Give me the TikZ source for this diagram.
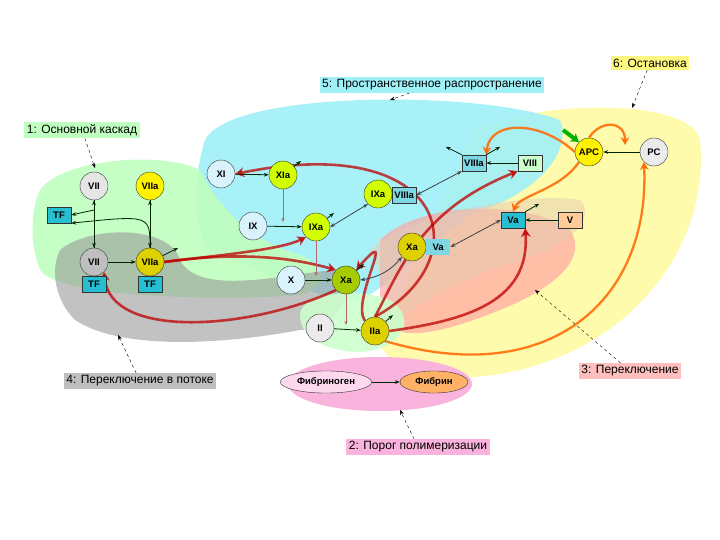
\documentclass[tikz,border=0pt]{standalone}
\usepackage{fontspec}
\setmainfont{Liberation Sans}
\usetikzlibrary{arrows.meta,shapes.geometric}
\definecolor{tfc}{RGB}{40,190,210}
\definecolor{cy}{RGB}{160,240,248}
\pgfdeclarelayer{bg}\pgfdeclarelayer{mid}
\pgfsetlayers{bg,mid,main}
\begin{document}
\begin{tikzpicture}[x=1pt,y=-1pt,font=\fontsize{9}{10}\selectfont,
 fac/.style={circle,draw=black!80,thin,minimum size=28pt,inner sep=0pt,font=\bfseries\fontsize{9.5}{10}\selectfont},
 bx/.style={draw=black!80,thin,minimum width=24pt,minimum height=16pt,inner sep=1.5pt,font=\bfseries\fontsize{9.5}{10}\selectfont},
 lab/.style={inner sep=2.5pt,font=\fontsize{12}{13}\selectfont},
 ar/.style={-{Stealth[length=5pt]},thick,black!75!green!60!black},
 dar/.style={{Stealth[length=5pt]}-{Stealth[length=5pt]},thick,black!70!cyan!60!black},
 red/.style={-{Stealth[length=9pt,width=10pt]},line width=2.6pt,red!75!black,opacity=0.75},
 ora/.style={-{Stealth[length=8pt,width=9pt]},line width=2.3pt,orange!80!red,opacity=0.85},
 pt/.style={dashed,-{Stealth[length=5pt]},thin}]
\useasboundingbox (0,0) rectangle (720,540);
\begin{pgfonlayer}{bg}
\fill[yellow!40,opacity=0.8] (470,135) .. controls (520,100) and (690,95) .. (700,140) .. controls (710,240) and (640,340) .. (520,370) .. controls (450,385) and (400,380) .. (380,345) -- cycle;
\fill[cy,opacity=0.9] (205,140) .. controls (230,90) and (480,90) .. (560,120) .. controls (575,160) and (520,200) .. (480,210) .. controls (440,230) and (400,280) .. (360,300) .. controls (320,300) and (280,280) .. (210,250) .. controls (190,230) and (195,170) .. (205,140) -- cycle;
\fill[green!25,opacity=0.9] (40,190) .. controls (60,160) and (160,150) .. (200,170) .. controls (220,210) and (250,240) .. (300,255) .. controls (320,260) and (330,290) .. (300,295) .. controls (240,300) and (60,300) .. (40,270) .. controls (30,245) and (30,210) .. (40,190) -- cycle;
\fill[black!40,opacity=0.6] (60,250) .. controls (90,225) and (170,225) .. (180,260) .. controls (200,300) and (300,270) .. (340,270) .. controls (360,300) and (330,330) .. (300,330) .. controls (220,345) and (120,350) .. (75,320) .. controls (55,300) and (50,270) .. (60,250) -- cycle;
\fill[red!35,opacity=0.7] (380,240) .. controls (420,200) and (530,200) .. (570,230) .. controls (590,260) and (550,290) .. (500,310) .. controls (450,330) and (400,345) .. (380,320) -- cycle;
\fill[brown!40,opacity=0.5] (370,250) .. controls (400,220) and (520,190) .. (580,200) .. controls (600,220) and (560,250) .. (520,260) .. controls (460,280) and (420,300) .. (400,320) -- cycle;
\fill[green!20,opacity=0.9] (300,315) .. controls (300,295) and (350,285) .. (390,300) .. controls (420,320) and (400,350) .. (360,352) .. controls (330,352) and (300,340) .. (300,315) -- cycle;
\fill[magenta!30] (380,384) ellipse (92 and 27);
\end{pgfonlayer}
% labels
\node[lab,fill=green!25] (L1) at (82,130) {1: Основной каскад};
\node[lab,fill=cy] (L5) at (432,85) {5: Пространственное распространение};
\node[lab,fill=yellow!50] (L6) at (650,63) {6: Остановка};
\node[lab,fill=black!25] (L4) at (140,381) {4: Переключение в потоке};
\node[lab,fill=red!25] (L3) at (630,371) {3: Переключение};
\node[lab,fill=magenta!30] (L2) at (418,447) {2: Порог полимеризации};
\coordinate (p1) at (95,168); \coordinate (p5) at (390,100); \coordinate (p6) at (632,108);
\coordinate (p4) at (118,335); \coordinate (p3) at (535,290); \coordinate (p2) at (400,410);
\draw[pt] (L1) -- (p1); \draw[pt] (L5) -- (p5); \draw[pt] (L6) -- (p6);
\draw[pt] (L4) -- (p4); \draw[pt] (L3) -- (p3); \draw[pt] (L2) -- (p2);
% nodes
\node[fac,fill=black!10] (VIIt) at (94,186) {VII};
\node[fac,fill=yellow] (VIIat) at (150,186) {VIIa};
\node[bx,fill=tfc] (TF) at (59,215) {TF};
\node[fac,fill=black!25] (VII) at (94,262) {VII};
\node[bx,fill=tfc] (TF1) at (94,284) {TF};
\node[fac,fill=yellow!70!olive] (VIIa) at (150,262) {VIIa};
\node[bx,fill=tfc] (TF2) at (150,284) {TF};
\node[fac,fill=cyan!15] (XI) at (221,174) {XI};
\node[fac,fill=lime!70!yellow] (XIa) at (283,175) {XIa};
\node[fac,fill=cyan!15] (IX) at (253,226) {IX};
\node[fac,fill=lime!70!yellow] (IXa) at (316,227) {IXa};
\node[fac,fill=cyan!15] (X) at (291,280) {X};
\node[fac,fill=lime!60!olive] (Xa) at (346,280) {Xa};
\node[fac,fill=black!8] (II) at (320,328) {II};
\node[fac,fill=yellow!70!olive] (IIa) at (375,331) {IIa};
\node[fac,fill=lime!70!yellow] (IXa2) at (378,194) {IXa};
\node[bx,fill=tfc!60,anchor=west] (VIIIa2) at (392,195) {VIIIa};
\node[bx,fill=tfc!60] (VIIIa) at (474,163) {VIIIa};
\node[bx,fill=green!20] (VIII) at (530,163) {VIII};
\node[fac,fill=yellow!70!olive] (Xa2) at (412,247) {Xa};
\node[bx,fill=tfc!60,draw=none,anchor=west] (Va2) at (426,247) {Va};
\node[bx,fill=tfc] (Va) at (513,220) {Va};
\node[bx,fill=orange!40] (V) at (570,220) {V};
\node[fac,fill=yellow] (APC) at (589,152) {APC};
\node[fac,fill=black!8] (PC) at (654,152) {PC};
\node[ellipse,draw=black!80,fill=magenta!15,font=\bfseries\fontsize{9.5}{10}\selectfont,minimum width=76pt,minimum height=22pt] (Fg) at (326,382) {Фибриноген};
\node[ellipse,draw=black!80,fill=orange!60,font=\bfseries\fontsize{9.5}{10}\selectfont,minimum width=68pt,minimum height=22pt] (Fb) at (434,382) {Фибрин};
% small arrows
\draw[ar] (VIIt) -- (VII); \draw[ar] (VII) -- (VIIt);
\draw[ar] (VIIat) -- (VIIa); \draw[ar] (VIIa) -- (VIIat);
\draw[ar] (94,210) -- (TF.east);
\draw[ar] (VIIa.north) ..controls (150,215) .. (TF.south east);
\draw[ar] (VII) -- (VIIa);
\draw[ar] (VIIa) -- ++(28,-14);
\draw[ar] (XI) -- (XIa); \draw[ar] (XIa) -- ++(18,-14);
\draw[ar] (IX) -- (IXa); \draw[ar] (IXa) -- ++(18,-14);
\draw[ar] (X) -- (Xa); \draw[ar] (Xa) -- ++(18,-16);
\draw[ar] (II) -- (IIa); \draw[ar] (IIa) -- ++(18,-16);
\draw[ar] (Fg) -- (Fb);
\draw[ar] (VIII) -- (VIIIa); \draw[ar] (V) -- (Va); \draw[ar] (PC) -- (APC);
\draw[ar] (VIIIa.north west) -- ++(-16,-8); \draw[ar] (VIIIa.north east) -- ++(14,-8);
\draw[ar] (Va.north east) -- ++(14,-8);
\draw[dar] (IXa.east) -- (IXa2.south west);
\draw[dar] (VIIIa2.east) -- (VIIIa.south west);
\draw[dar] (Xa.east) to[bend right=20] (Xa2.south west);
\draw[dar] (Va2.east) -- (Va.west);
\draw[thin,red!50!black!60,-{Stealth[length=4pt]}] (XIa) -- (283,222);
\draw[thin,red!50!black!60,-{Stealth[length=4pt]}] (IXa) -- (316,276);
\draw[thin,red!50!black!60,-{Stealth[length=4pt]}] (Xa) -- (346,325);
% big feedback arrows
\begin{pgfonlayer}{mid}
\draw[red] (VIIa.east) .. controls (220,255) and (280,250) .. (IXa.south west);
\draw[red] (VIIa.east) .. controls (250,250) and (300,260) .. (Xa.north west);
\draw[red] (Xa.south west) .. controls (250,330) and (110,340) .. (VII.south east);
\draw[red] (IIa.north) .. controls (480,260) and (450,130) .. (XI.east);
\draw[red] (IIa.north) .. controls (400,270) and (420,210) .. (VIII.south west);
\draw[red] (IIa.north west) .. controls (350,300) and (400,220) .. (Xa.north east);
\draw[red] (IIa.east) .. controls (470,320) and (530,300) .. (Va.south east);
\draw[ora] (IIa.south east) .. controls (550,390) and (650,300) .. (PC.south west);
\draw[ora] (APC.west) .. controls (540,120) and (490,120) .. (VIIIa.north east);
\draw[ora] (APC.south west) .. controls (560,190) and (520,195) .. (Va.north);
\draw[ora] (APC.north) .. controls (600,120) and (625,120) .. (625,145);
\draw[-{Stealth[length=8pt,width=10pt]},line width=4pt,green!70!black] (563,130) -- (APC.north west);
\end{pgfonlayer}
\end{tikzpicture}
\end{document}
